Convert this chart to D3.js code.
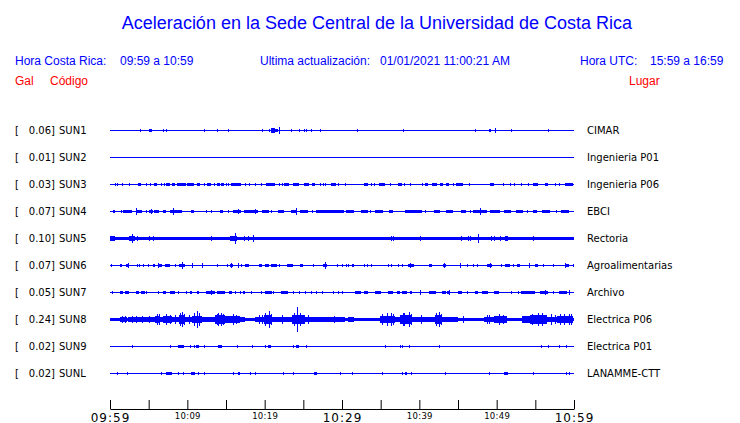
<!DOCTYPE html>
<html>
<head>
<meta charset="utf-8">
<script src="https://cdn.jsdelivr.net/npm/d3@7"></script>
<style>
  body { margin: 0; background: #fff; }
</style>
</head>
<body>
<svg id="chart"></svg>
<script>
// stations, max acceleration (Gal) and place
const stations = ['SUN1', 'SUN2', 'SUN3', 'SUN4', 'SUN5', 'SUN6', 'SUN7', 'SUN8', 'SUN9', 'SUNL'];
const peakGal = ['0.06', '0.01', '0.03', '0.07', '0.10', '0.07', '0.05', '0.24', '0.02', '0.02'];
const places = ['CIMAR', 'Ingenieria P01', 'Ingenieria P06', 'EBCI', 'Rectoria', 'Agroalimentarias',
  'Archivo', 'Electrica P06', 'Electrica P01', 'LANAMME-CTT'];

// background noise level per station, in 0.01 Gal
const noiseFloor = [0, 0, 0, 0, 2.8, 0, 0, 3.5, 0, 0];

// bursts: [start minute, end minute, half amplitude in 0.01 Gal], minutes after 09:59
const sun1Bursts = [[5, 5.4, 3], [20.8, 21.3, 4], [21.3, 21.7, 3]];
const sun2Bursts = [];
const sun3Bursts = [[3.6, 3.95, 2], [5.7, 6.1, 3], [7.3, 7.8, 3], [8, 8.4, 3], [8.6, 9.8, 3], [10, 10.9, 3],
  [11.2, 11.6, 3], [12.6, 13, 3], [13.9, 14.2, 3], [14.4, 14.7, 3], [15.7, 16.9, 3], [20.2, 21.4, 3],
  [22.5, 23.1, 3], [23.6, 24.4, 3], [25.1, 25.7, 2], [26.1, 26.5, 3], [28.6, 29.2, 3], [32.8, 33.4, 2],
  [34.8, 35.5, 3], [37.2, 37.7, 3], [40.7, 41.1, 3], [41.7, 42.3, 3], [42.7, 43.1, 3], [43.4, 43.8, 3],
  [44.7, 45.7, 2], [49.1, 49.7, 3], [54.7, 55.4, 2], [56.2, 56.7, 3], [58.8, 59.9, 3]];
const sun4Bursts = [[0.4, 0.7, 2], [1.7, 2.8, 3], [3.5, 4.1, 3], [5.1, 5.5, 3], [5.7, 6.4, 3], [6.8, 7.3, 3],
  [7.7, 9.3, 3], [10.5, 10.8, 3], [14.2, 14.6, 3], [15.9, 17, 3], [17.3, 19.1, 3], [19.6, 20.5, 3],
  [21.7, 22.5, 3], [23.4, 24.1, 3], [24.6, 25.6, 2], [26.6, 27.8, 2], [27.8, 29.7, 3], [29.7, 30.2, 2],
  [30.5, 31.5, 3], [32.5, 33.4, 3], [34.3, 35.3, 3], [36.1, 36.6, 3], [38.2, 40.4, 3], [41.9, 42.7, 3],
  [43.4, 44.4, 3], [45.4, 46, 3], [46.9, 47.8, 3], [48, 48.7, 3], [49.1, 50.4, 3], [50.9, 51.9, 3],
  [52.5, 53.4, 3], [54.7, 55.2, 3], [55.8, 56.9, 3], [58.3, 59.4, 3]];
const sun5Bursts = [[0, 0.6, 4], [2.4, 3.2, 4], [15.5, 16.4, 5], [51.1, 51.5, 4]];
const sun6Bursts = [[1.3, 1.6, 3], [2.1, 2.5, 3], [5.6, 5.8, 3], [6.2, 6.7, 3], [7.1, 7.8, 3], [8.9, 9.7, 3],
  [15.5, 15.9, 3], [17.5, 18, 3], [19.3, 19.6, 3], [20, 20.5, 3], [20.8, 21.6, 3], [22.9, 23.7, 3],
  [24.6, 25, 3], [27.6, 28, 3], [31.3, 31.6, 3], [38.5, 39.3, 3], [41.2, 41.6, 3], [43.1, 43.4, 3],
  [48.8, 49.4, 3], [51.1, 51.7, 3], [52.6, 53, 2], [55, 55.3, 3], [58.8, 59.3, 3]];
const sun7Bursts = [[1.3, 1.7, 3], [1.9, 2.5, 3], [3.3, 3.7, 3], [4, 4.5, 3], [6.9, 7.3, 3], [7.7, 8.4, 3],
  [10.3, 10.6, 3], [11.2, 11.5, 3], [12.4, 13.6, 3], [13.8, 14.9, 3], [15.4, 15.8, 3], [17.2, 17.5, 3],
  [20, 20.9, 3], [22.1, 23, 3], [31.7, 32.5, 3], [32.8, 33.3, 3], [34.3, 35.1, 3], [36, 36.6, 3],
  [37.1, 37.5, 3], [37.8, 38.4, 3], [38.8, 39.1, 3], [41.3, 42.2, 3], [42.9, 43.4, 3], [43.6, 43.9, 3],
  [45, 45.5, 3], [47.2, 47.6, 3], [48.1, 48.9, 3], [49.6, 50.3, 3], [53.2, 55, 3], [55.6, 56.7, 3],
  [58, 59.1, 3]];
const sun8Bursts = [[1.3, 2.2, 5], [2.3, 3.7, 4.5], [3.7, 4.8, 4], [4.8, 5.8, 4.5], [5.8, 6.5, 7],
  [6.5, 6.9, 4.5], [6.9, 8, 6.5], [8, 8.9, 5.5], [8.9, 9.7, 8], [9.7, 10.6, 5.5], [10.6, 11.9, 7],
  [11.9, 12.7, 5.5], [12.7, 13.6, 4.5], [13.6, 14.9, 8], [14.9, 15.5, 6], [15.5, 16.8, 6], [16.8, 17.5, 4.5],
  [18.8, 19.9, 5.5], [19.9, 20.9, 8], [20.9, 23.5, 5.5], [23.5, 25.2, 8], [25.2, 27, 5.5], [27, 27.8, 4.5],
  [27.8, 29.5, 5], [29.5, 30.4, 4], [30.8, 31.5, 4.5], [34.9, 36.9, 7], [36.9, 37.5, 4.5], [37.5, 39, 8],
  [39, 41.2, 5.5], [41.2, 42, 4], [42, 42.9, 8], [42.9, 45, 5], [48.3, 49.6, 5.5], [49.6, 51.3, 6],
  [53.3, 54.3, 6], [54.3, 56.5, 8], [56.5, 57.8, 5.5], [57.8, 59.9, 7]];
const sun9Bursts = [[8.8, 9.6, 2.5], [11.1, 11.5, 2.5], [14, 14.5, 2.5], [20.4, 20.8, 2.5], [24.1, 24.5, 2.5]];
const sunlBursts = [[7.3, 8, 2.5], [10.5, 11, 2.5], [16.5, 16.8, 2.5], [26.4, 26.8, 2.5], [50.9, 51.5, 2.5]];

// single spikes: [minute, amplitude in 0.01 Gal]
const sun1Peaks = [[3.9, 3], [6.8, 2], [7.3, 3], [12.1, 2], [13.9, 3], [15.2, 3], [19.7, 3], [20.6, 2],
  [21.8, 6], [23.4, 3], [24.5, 2], [25.1, 3], [25.4, 3], [26, 2], [27.1, 2], [32, 3], [37.9, 3], [47.2, 3],
  [49, 3], [49.2, 3], [49.8, 5], [51.8, 3], [56.6, 2]];
const sun2Peaks = [];
const sun3Peaks = [[0.7, 2], [0.9, 2], [1.6, 2], [2.5, 2], [4.6, 2], [5.2, 2], [6.6, 2], [7, 2], [12.1, 2],
  [13.4, 2], [15, 2], [15.3, 2], [17.4, 2], [18, 2], [18.7, 2], [19.5, 3], [21.9, 2], [22.2, 2], [27.1, 2],
  [27.5, 2], [27.8, 2], [29.5, 2], [30.4, 2], [33.8, 2], [34.2, 2], [36.2, 3], [38, 2], [38.8, 3], [40.4, 2],
  [44.3, 2], [46.4, 2], [50.8, 2], [51.7, 3], [52.2, 3], [53.2, 2], [54.1, 2], [57.5, 2], [58, 2]];
const sun4Peaks = [[1.4, 2], [3.3, 7], [4.6, 2], [5.3, 4], [8.2, 6], [12.4, 2], [13.1, 2], [15.3, 2],
  [16.5, 4], [18.8, 5], [20.8, 2], [24.1, 6], [26.1, 2], [33.6, 2], [40.7, 2], [46.5, 2], [47.8, 7],
  [53.9, 2], [57.7, 2]];
const sun5Peaks = [[2.8, 8], [3.5, 4], [5.1, 4], [5.5, 5], [13, 4], [15.7, 5], [16.1, 10], [17.3, 4],
  [17.9, 4], [18.5, 6], [22.6, 3.5], [27.4, 3.5], [36.4, 4], [36.6, 4], [40.1, 5], [45.4, 5], [46.3, 4],
  [46.5, 4], [47.6, 8], [49.3, 4], [49.7, 4], [50.4, 4], [52, 3.5], [54.7, 4]];
const sun6Peaks = [[0.1, 2], [2.3, 4], [3.5, 2], [3.8, 2], [4.3, 2], [4.9, 2], [6.25, 4], [8.4, 2], [9.3, 6],
  [10.6, 4], [11.9, 5], [13.9, 2], [15.1, 3], [15.6, 5], [16.5, 4], [17, 2], [21.9, 2], [26.3, 2], [27.8, 7],
  [29.4, 2], [30, 2], [30.5, 2], [30.8, 2], [32.8, 2], [33.2, 2], [33.8, 2], [35.9, 2], [36.4, 2], [37.2, 2],
  [37.7, 2], [38.8, 5], [43.2, 4], [45.3, 4], [46.1, 2], [47, 2], [47.5, 2], [49.1, 4], [50.6, 2], [52.1, 2],
  [54.2, 4], [56, 2], [57.3, 2], [58.8, 4], [59.9, 2]];
const sun7Peaks = [[0.2, 2], [4.6, 2], [6.2, 2], [8.8, 2], [9.8, 2], [13.1, 4], [16.2, 3], [16.8, 2], [18.2, 2],
  [19.5, 2], [21.1, 2], [23.7, 2], [24.4, 2], [25.2, 2], [26, 2], [26.6, 2], [27.4, 2], [28.8, 2], [29.5, 2],
  [30, 2], [40.1, 4], [43.8, 4], [46.1, 2], [51.9, 2], [52.8, 2], [56.3, 4], [57.3, 2], [59.3, 4]];
const sun8Peaks = [[1.6, 7], [2, 7], [2.8, 6], [3.3, 6], [4.2, 6], [5, 7], [6.1, 11], [6.3, 10], [7.2, 10],
  [7.7, 9], [8.4, 9], [9, 12], [9.3, 14], [9.6, 11], [10.2, 9], [10.8, 12], [11.2, 16], [11.5, 13],
  [13.8, 11], [14, 13], [14.3, 12], [14.6, 10], [15.9, 10], [16.3, 9], [19.3, 9], [19.6, 8], [20.1, 12],
  [20.5, 16], [20.8, 10], [22.3, 9], [23.8, 12], [24.2, 24], [24.6, 13], [25.6, 9], [29, 7], [35.2, 10],
  [35.8, 12], [36.3, 12], [36.6, 10], [37.9, 12], [38, 13], [38.6, 14], [38.9, 11], [40.2, 9], [42.2, 12],
  [42.5, 15], [42.8, 10], [45.6, 7], [48.7, 8], [49, 9], [50.3, 10], [50.8, 9], [54.6, 11], [55.3, 12],
  [55.8, 13], [57, 10], [57.5, 8], [58.2, 10], [58.7, 11], [59.3, 10], [59.6, 11]];
const sun9Peaks = [[2.9, 2], [7.8, 2], [10.3, 2], [10.9, 2], [12.2, 2], [16.4, 2], [18.3, 2], [20, 2],
  [23.7, 2], [25.3, 2], [35.5, 2], [37.5, 2], [37.8, 2], [38.7, 2], [42.6, 2], [55.7, 2], [56.7, 2],
  [58, 2], [59, 2]];
const sunlPeaks = [[0.9, 2], [2.2, 2], [6.6, 2], [8.8, 2], [9.4, 2], [11.4, 2], [12.1, 2], [15.9, 2],
  [18.1, 2], [18.8, 2], [22.4, 2], [23.7, 2], [29.7, 2], [31.3, 2], [35.2, 2], [37.8, 2], [38.1, 2],
  [38.3, 2], [38.9, 2], [43.3, 2], [49, 2], [54.7, 2], [59, 2], [59.3, 2]];

const burstSets = [sun1Bursts, sun2Bursts, sun3Bursts, sun4Bursts, sun5Bursts,
  sun6Bursts, sun7Bursts, sun8Bursts, sun9Bursts, sunlBursts];
const peakSets = [sun1Peaks, sun2Peaks, sun3Peaks, sun4Peaks, sun5Peaks,
  sun6Peaks, sun7Peaks, sun8Peaks, sun9Peaks, sunlPeaks];

// time axis: minutes after 09:59, tick every 5 min
const tickMinutes = d3.range(0, 61, 5);
const tickLabels = ['09:59', '', '10:09', '', '10:19', '', '10:29', '', '10:39', '', '10:49', '', '10:59'];

const blue = '#0000ff';
const red = '#ff0000';
const dims = { width: 740, height: 423 };

const svg = d3.select('#chart')
  .attr('width', dims.width)
  .attr('height', dims.height);

const x = d3.scaleLinear().domain([0, 60]).range([110, 574]);
const y = d3.scalePoint().domain(stations).range([130.5, 373.5]);
const amp = d3.scaleLinear().domain([0, 24]).range([0, 12.5]);

// header
svg.append('text')
  .attr('x', 377).attr('y', 29)
  .attr('text-anchor', 'middle')
  .attr('fill', blue)
  .style('font', '18px "Liberation Sans", Arial, sans-serif')
  .text('Aceleración en la Sede Central de la Universidad de Costa Rica');

const header = [
  { x: 15, y: 65, t: 'Hora Costa Rica:', c: blue },
  { x: 120, y: 65, t: '09:59 a 10:59', c: blue },
  { x: 260, y: 65, t: 'Ultima actualización:', c: blue },
  { x: 380, y: 65, t: '01/01/2021 11:00:21 AM', c: blue },
  { x: 580, y: 65, t: 'Hora UTC:', c: blue },
  { x: 650, y: 65, t: '15:59 a 16:59', c: blue },
  { x: 15, y: 85, t: 'Gal', c: red },
  { x: 50, y: 85, t: 'Código', c: red },
  { x: 629, y: 85, t: 'Lugar', c: red }
];
svg.append('g').selectAll('text')
  .data(header)
  .join('text')
  .attr('x', d => d.x).attr('y', d => d.y)
  .attr('fill', d => d.c)
  .style('font', '12px "Liberation Sans", Arial, sans-serif')
  .text(d => d.t);

// traces
stations.forEach((s, i) => {
  const yc = y(s);
  const g = svg.append('g').attr('shape-rendering', 'crispEdges');
  const floor = noiseFloor[i];

  if (floor > 0) {
    g.append('rect')
      .attr('x', x(0)).attr('width', x(60) - x(0))
      .attr('y', yc - amp(floor)).attr('height', 2 * amp(floor))
      .attr('fill', blue);
  } else {
    g.append('line')
      .attr('x1', x(0)).attr('x2', x(60))
      .attr('y1', yc).attr('y2', yc)
      .attr('stroke', blue).attr('stroke-width', 1);
  }

  g.selectAll('rect.burst')
    .data(burstSets[i])
    .join('rect')
    .attr('class', 'burst')
    .attr('x', d => x(d[0]))
    .attr('width', d => Math.max(1, x(d[1]) - x(d[0])))
    .attr('y', d => yc - amp(d[2]))
    .attr('height', d => 2 * amp(d[2]))
    .attr('fill', blue);

  g.selectAll('line.peak')
    .data(peakSets[i])
    .join('line')
    .attr('class', 'peak')
    .attr('x1', d => Math.round(x(d[0])) + 0.5)
    .attr('x2', d => Math.round(x(d[0])) + 0.5)
    .attr('y1', d => yc - amp(d[1]))
    .attr('y2', d => yc + amp(d[1]))
    .attr('stroke', blue).attr('stroke-width', 1);
});

// left and right labels
const labelFont = '10px "DejaVu Sans", sans-serif';
const left = svg.append('g');
left.selectAll('text.br')
  .data(stations).join('text')
  .attr('class', 'br')
  .attr('x', 15).attr('y', d => y(d) + 3.5)
  .style('font', labelFont)
  .text('[');
left.selectAll('text.val')
  .data(stations).join('text')
  .attr('class', 'val')
  .attr('x', 55).attr('y', d => y(d) + 3.5)
  .attr('text-anchor', 'end')
  .style('font', labelFont)
  .text((d, i) => peakGal[i] + ']');
left.selectAll('text.code')
  .data(stations).join('text')
  .attr('class', 'code')
  .attr('x', 59).attr('y', d => y(d) + 3.5)
  .style('font', labelFont)
  .text(d => d);

svg.append('g').selectAll('text')
  .data(stations).join('text')
  .attr('x', 587).attr('y', d => y(d) + 3.5)
  .style('font', labelFont)
  .text((d, i) => places[i]);

// time axis, ticks pointing up
const axis = d3.axisBottom(x)
  .tickValues(tickMinutes)
  .tickSizeInner(-9)
  .tickSizeOuter(0)
  .tickFormat((d, i) => tickLabels[i]);

const ax = svg.append('g')
  .attr('transform', 'translate(0,409)')
  .call(axis);

ax.select('.domain').attr('stroke', '#000');
ax.selectAll('.tick line').attr('stroke', '#000');
ax.selectAll('.tick text')
  .attr('dy', null)
  .attr('fill', '#000')
  .attr('y', d => d % 30 === 0 ? 12.5 : 9.5)
  .style('font-family', '"DejaVu Sans", sans-serif')
  .style('font-weight', 'normal')
  .style('font-size', d => d % 30 === 0 ? '12px' : '8.5px')
  .style('letter-spacing', d => d % 30 === 0 ? '1px' : '0.3px');
</script>
</body>
</html>
